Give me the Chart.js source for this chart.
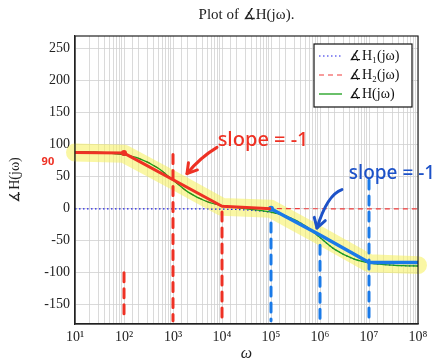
<!DOCTYPE html>
<html>
<head>
<meta charset="utf-8">
<script src="https://cdn.jsdelivr.net/npm/chart.js@4"></script>
<style>
  body { margin: 0; background: #fff; }
</style>
</head>
<body>
<canvas id="myChart" width="437" height="363"></canvas>
<script>
// frequencies where the phase curves were read (rad/s)
const omega = [1e1, 2e1, 5e1, 1e2, 2e2, 5e2, 1e3, 2e3, 5e3, 1e4, 2e4, 5e4, 1e5, 2e5, 5e5, 1e6, 2e6, 5e6, 1e7, 2e7, 5e7, 1e8];
const phaseH1 = [0, 0, 0, 0, 0, 0, -0.1, -0.1, -0.3, -0.6, -1.1, -2.9, -5.7, -11.3, -26.6, -45, -63.4, -78.7, -84.3, -87.1, -88.9, -89.4];
const phaseH2 = [89.4, 88.9, 87.1, 84.3, 78.7, 63.4, 45, 26.6, 11.3, 5.7, 2.9, 1.1, 0.6, 0.3, 0.1, 0.1, 0, 0, 0, 0, 0, 0];
const phaseH = [89.4, 88.9, 87.1, 84.3, 78.7, 63.4, 44.9, 26.5, 11.0, 5.1, 1.8, -1.8, -5.1, -11.0, -26.5, -44.9, -63.4, -78.7, -84.3, -87.1, -88.9, -89.4];

const seriesLabels = ['∡H₁(jω)', '∡H₂(jω)', '∡H(jω)'];
const xTickLabels = ['10¹', '10²', '10³', '10⁴', '10⁵', '10⁶', '10⁷', '10⁸'];
const yTicks = [-150, -100, -50, 0, 50, 100, 150, 200, 250];

// hand drawn notes over the plot
const highlightW = [10, 100, 1e3, 1e4, 1e5, 1e6, 1e7, 1e8];
const highlightPhase = [88, 86, 45, 3, 0, -42, -85, -88];
const redAsymW = [10, 100, 1e4, 1e5];
const redAsymPhase = [88, 87, 4, 0];
const blueAsymW = [1e5, 1e6, 1e7, 1e8];
const blueAsymPhase = [0, -41, -84, -84];
const redMarkW = [100, 1000, 10000];
const redMarkTop = [-100, 85, -5];
const blueMarkW = [1e5, 1e6, 1e7];
const blueMarkTop = [-22, -57, 45];
const markBottom = -175;

const RED = '#ee3124';
const BLUE = '#1a7ae8';

const pts = (xs, ys) => xs.map((v, i) => ({ x: v, y: ys[i] }));

function vmark(w, top, color) {
  return {
    data: [{ x: w, y: top }, { x: w, y: markBottom }],
    borderColor: color, borderWidth: 3, borderDash: [9, 7], borderCapStyle: 'round',
    pointRadius: 0, order: 1, clip: false
  };
}

function arrow(ctx, x0, y0, cx, cy, x1, y1, color) {
  ctx.strokeStyle = color;
  ctx.lineWidth = 3;
  ctx.lineCap = 'round';
  ctx.lineJoin = 'round';
  ctx.beginPath();
  ctx.moveTo(x0, y0);
  ctx.quadraticCurveTo(cx, cy, x1, y1);
  ctx.stroke();
  const a = Math.atan2(y1 - cy, x1 - cx);
  ctx.beginPath();
  ctx.moveTo(x1 - 11 * Math.cos(a - 0.55), y1 - 11 * Math.sin(a - 0.55));
  ctx.lineTo(x1, y1);
  ctx.lineTo(x1 - 11 * Math.cos(a + 0.55), y1 - 11 * Math.sin(a + 0.55));
  ctx.stroke();
}

const notes = {
  id: 'notes',
  afterDatasetsDraw(chart) {
    const { ctx, scales: { x, y } } = chart;
    const px = v => x.getPixelForValue(v);
    const py = v => y.getPixelForValue(v);
    ctx.save();
    arrow(ctx, px(7900), py(96), px(3560), py(80), px(1930), py(55), RED);
    arrow(ctx, px(2.8e6), py(30), px(1.4e6), py(22), px(8.7e5), py(-30), '#1d52c8');
    ctx.font = '500 20px "Noto Sans"';
    ctx.textBaseline = 'middle';
    ctx.textAlign = 'center';
    ctx.fillStyle = RED;
    ctx.fillText('slope = -1', px(6.9e4), py(107));
    ctx.font = '500 19px "Noto Sans"';
    ctx.fillStyle = '#1d52c8';
    ctx.fillText('slope = -1', px(2.95e7), py(55));
    ctx.fillStyle = RED;
    ctx.font = 'bold 11px "Noto Sans"';
    ctx.fillText('90', px(2.8), py(74));
    ctx.restore();
  },
  afterDraw(chart) {
    const { ctx, chartArea: a } = chart;
    ctx.save();
    ctx.strokeStyle = '#222';
    ctx.lineWidth = 1.2;
    ctx.strokeRect(a.left, a.top, a.right - a.left, a.bottom - a.top);

    // legend box
    const bw = 98, bh = 63;
    const bx = a.right - 6 - bw, by = a.top + 8;
    ctx.fillStyle = '#fff';
    ctx.fillRect(bx, by, bw, bh);
    ctx.strokeStyle = '#111';
    ctx.lineWidth = 1.2;
    ctx.strokeRect(bx, by, bw, bh);
    ctx.font = '14px "Liberation Serif", "DejaVu Serif"';
    ctx.textBaseline = 'middle';
    ctx.textAlign = 'left';
    chart.data.datasets.slice(1, 4).forEach((ds, i) => {
      const ry = by + 12 + i * 19;
      ctx.strokeStyle = ds.borderColor;
      ctx.lineWidth = ds.borderWidth;
      ctx.setLineDash(ds.borderDash || []);
      ctx.beginPath();
      ctx.moveTo(bx + 5, ry);
      ctx.lineTo(bx + 28, ry);
      ctx.stroke();
      ctx.setLineDash([]);
      ctx.fillStyle = '#111';
      ctx.fillText(ds.label, bx + 35, ry);
    });
    ctx.restore();
  }
};

Chart.defaults.font.family = '"Liberation Serif", "DejaVu Serif", serif';
Chart.defaults.color = '#222';

new Chart(document.querySelector('#myChart'), {
  type: 'line',
  data: {
    datasets: [
      {
        label: 'highlight', data: pts(highlightW, highlightPhase),
        borderColor: 'rgba(246,240,90,0.55)', borderWidth: 18,
        borderCapStyle: 'round', borderJoinStyle: 'round',
        pointRadius: 0, order: 10, clip: false
      },
      {
        label: seriesLabels[0], data: pts(omega, phaseH1),
        borderColor: '#1f1fe6', borderWidth: 1.2, borderDash: [1.5, 2.5],
        pointRadius: 0, cubicInterpolationMode: 'monotone', order: 5
      },
      {
        label: seriesLabels[1], data: pts(omega, phaseH2),
        borderColor: '#f03a3a', borderWidth: 1.2, borderDash: [5, 4],
        pointRadius: 0, cubicInterpolationMode: 'monotone', order: 4
      },
      {
        label: seriesLabels[2], data: pts(omega, phaseH),
        borderColor: '#1a9e1a', borderWidth: 1.3,
        pointRadius: 0, cubicInterpolationMode: 'monotone', order: 3
      },
      {
        label: 'red asymptote', data: pts(redAsymW, redAsymPhase),
        borderColor: RED, borderWidth: 3, borderJoinStyle: 'round',
        pointRadius: [0, 3, 0, 0], pointBackgroundColor: RED, pointBorderWidth: 0,
        order: 2, clip: false
      },
      {
        label: 'blue asymptote', data: pts(blueAsymW, blueAsymPhase),
        borderColor: BLUE, borderWidth: 3.5, borderJoinStyle: 'round',
        pointRadius: [3, 0, 0, 0], pointBackgroundColor: BLUE, pointBorderWidth: 0,
        order: 2
      },
      ...redMarkW.map((w, i) => vmark(w, redMarkTop[i], RED)),
      ...blueMarkW.map((w, i) => vmark(w, blueMarkTop[i], BLUE))
    ]
  },
  options: {
    responsive: false,
    animation: false,
    layout: { padding: { top: 0, right: 19, left: 0, bottom: 0 } },
    plugins: {
      legend: { display: false },
      tooltip: { enabled: false },
      title: {
        display: true, text: 'Plot of ∡H(jω).', fullSize: false,
        font: { size: 15, weight: 'normal' }, color: '#222',
        padding: { top: 6, bottom: 12 }
      }
    },
    scales: {
      x: {
        type: 'logarithmic', min: 10, max: 1e8,
        ticks: {
          autoSkip: false, maxRotation: 0, padding: 5,
          font: { size: 14 }, color: '#222',
          callback: v => {
            const e = Math.log10(v);
            return Math.abs(e - Math.round(e)) < 1e-9 ? xTickLabels[Math.round(e) - 1] : '';
          }
        },
        grid: { color: '#d0d0d0', lineWidth: 0.8, drawTicks: false },
        border: { color: '#222', width: 1.2 },
        title: { display: true, text: 'ω', font: { size: 16, style: 'italic' }, padding: 0 },
        afterFit: s => { s.height = 39; }
      },
      y: {
        min: -180, max: 270,
        afterBuildTicks: s => { s.ticks = yTicks.map(v => ({ value: v })); },
        ticks: { padding: 5, font: { size: 14 }, color: '#222' },
        grid: { color: '#d0d0d0', lineWidth: 0.8, drawTicks: false },
        border: { color: '#222', width: 1.2 },
        title: { display: true, text: '∡H(jω)', font: { size: 14 }, padding: { top: 7, bottom: 0 } },
        afterFit: s => { s.width = 75; }
      }
    }
  },
  plugins: [notes]
});
</script>
</body>
</html>
